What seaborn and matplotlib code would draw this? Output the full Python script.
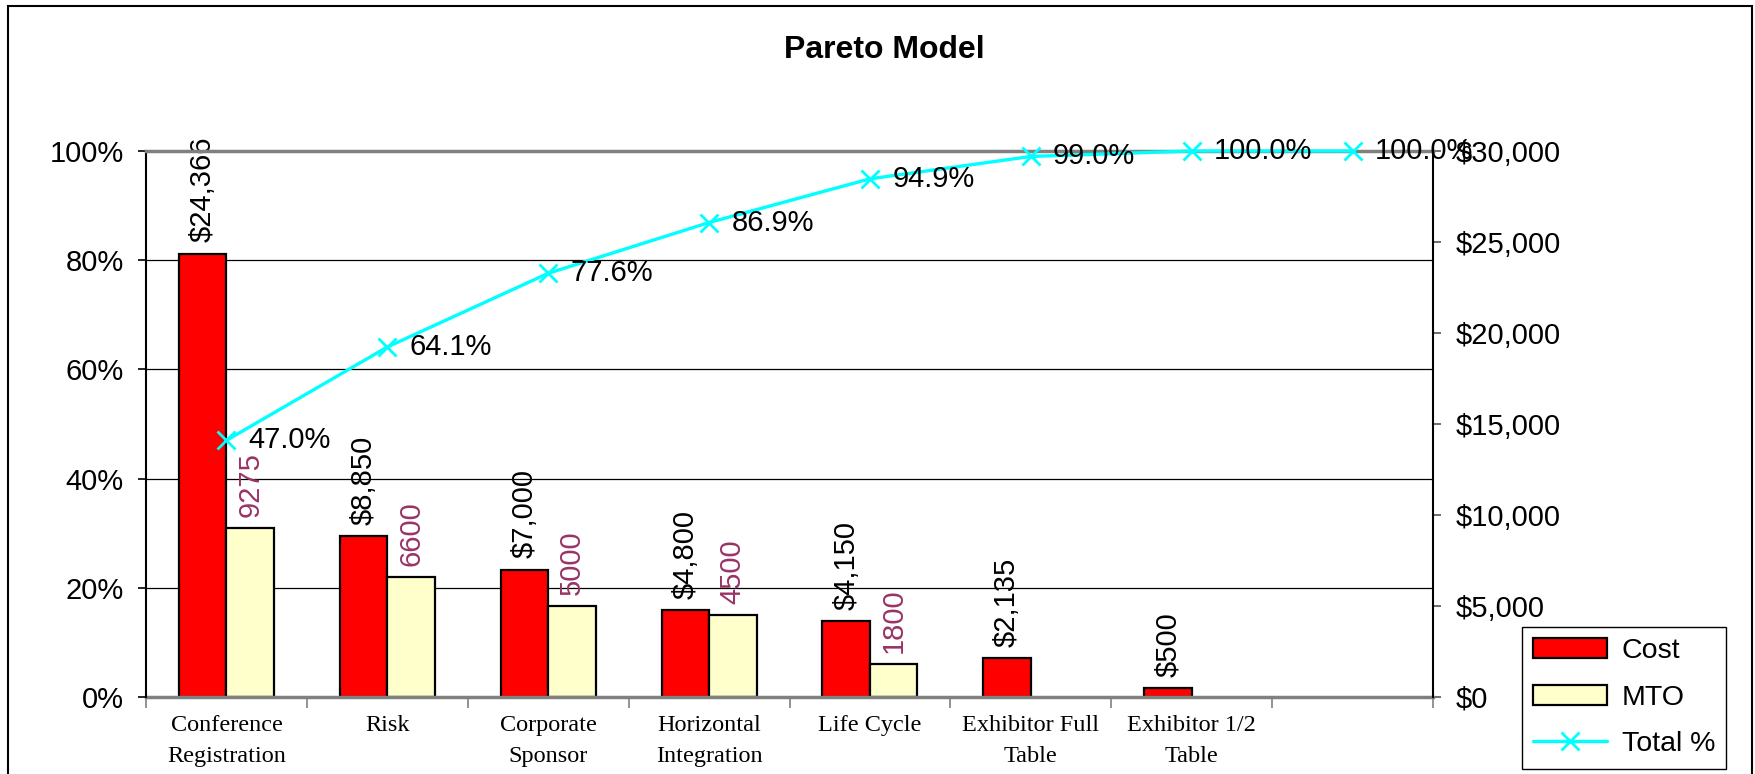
import numpy as np
import pandas as pd
import matplotlib
matplotlib.use("Agg")
import matplotlib.pyplot as plt
import seaborn as sns
from matplotlib.lines import Line2D
from matplotlib.patches import Patch, Rectangle

# ---------------- data ----------------
categories = ["Conference\nRegistration", "Risk", "Corporate\nSponsor",
              "Horizontal\nIntegration", "Life Cycle", "Exhibitor Full\nTable",
              "Exhibitor 1/2\nTable", " "]
cost = [24366, 8850, 7000, 4800, 4150, 2135, 500, np.nan]
mto = [9275, 6600, 5000, 4500, 1800, np.nan, np.nan, np.nan]
total_pct = [47.0, 64.1, 77.6, 86.9, 94.9, 99.0, 100.0, 100.0]
pct_ticks = [0, 20, 40, 60, 80, 100]
dollar_ticks = [0, 5000, 10000, 15000, 20000, 25000, 30000]
series_names = ["Cost", "MTO", "Total %"]
title = "Pareto Model"

# ---------------- style ----------------
sns.set_theme(style="white")
plt.rcParams['font.family'] = ['Liberation Sans', 'DejaVu Sans']
plt.rcParams['text.color'] = 'black'
plt.rcParams['axes.labelcolor'] = 'black'
plt.rcParams['xtick.color'] = 'black'
plt.rcParams['ytick.color'] = 'black'

RED = "#FF0000"
YELLOW = "#FFFFCC"
CYAN = "#00FFFF"
PLUM = "#993366"
FS = 21

fig = plt.figure(figsize=(17.55, 7.74), dpi=100)
W, H = 1755, 774
ax = fig.add_axes([146 / W, 77 / H, (1433 - 146) / W, (697 - 151) / H])

df = pd.DataFrame({
    "category": categories * 2,
    "series": [series_names[0]] * len(categories) + [series_names[1]] * len(categories),
    "value": cost + mto,
}).dropna()

sns.barplot(data=df, x="category", y="value", hue="series", order=categories,
            hue_order=series_names[:2], palette={series_names[0]: RED, series_names[1]: YELLOW},
            width=0.59, gap=0, edgecolor="black", linewidth=1.6, saturation=1,
            errorbar=None, legend=False, ax=ax)

# ---------------- cumulative line axis (left) ----------------
ax2 = ax.twinx()

ax.set_xlim(-0.5, len(categories) - 0.5)
ax.set_ylim(dollar_ticks[0], dollar_ticks[-1])
ax.set_xlabel("")
ax.set_ylabel("")

# gridlines behind bars (at percent positions)
for p in pct_ticks[1:-1]:
    ax.axhline(p / 100 * dollar_ticks[-1], color="black", lw=0.9, zorder=0)

# right axis ($) belongs to the bars
ax.yaxis.tick_right()
ax.set_yticks(dollar_ticks)
ax.set_yticklabels([f"${v:,}" for v in dollar_ticks])
ax.tick_params(axis="y", which="major", right=True, left=False, labelright=True,
               labelleft=False, direction="out", length=6, width=1.2, color="#555555",
               pad=10, labelsize=FS, labelcolor="black")

# x axis
ax.set_xticks(range(len(categories)))
ax.set_xticklabels(categories, fontfamily="Liberation Serif", fontsize=17.5, linespacing=1.6)
ax.tick_params(axis="x", which="major", bottom=True, length=0, pad=13, labelcolor="black")
ax.set_xticks(np.arange(-0.5, len(categories), 1), minor=True)
ax.tick_params(axis="x", which="minor", bottom=True, direction="out", length=8,
               width=1.2, color="#808080")

for s in ["left", "right", "top"]:
    ax.spines[s].set_visible(False)
ax.spines["bottom"].set_color("#808080")
ax.spines["bottom"].set_linewidth(2.5)

# data labels on bars
ax.bar_label(ax.containers[0], fmt=lambda v: f"${v:,.0f}", rotation=90, padding=8,
             fontsize=FS, color="black")
ax.bar_label(ax.containers[1], fmt=lambda v: f"{v:.0f}", rotation=90, padding=8,
             fontsize=FS, color=PLUM)

xpos = np.arange(len(categories))
sns.lineplot(x=xpos, y=total_pct, ax=ax2, color=CYAN, marker="x", markersize=13,
             markeredgewidth=2, markeredgecolor=CYAN, linewidth=2.4, clip_on=False,
             zorder=4)
ax2.set_ylim(pct_ticks[0], pct_ticks[-1])
ax2.set_xlim(-0.5, len(categories) - 0.5)
ax2.yaxis.tick_left()
ax2.set_yticks(pct_ticks)
ax2.set_yticklabels([f"{p}%" for p in pct_ticks])
ax2.tick_params(axis="y", left=True, right=False, labelleft=True, labelright=False,
                direction="out", length=6, width=1.2, color="black", pad=10, labelsize=FS)
ax2.tick_params(axis="x", which="both", bottom=False, labelbottom=False)
ax2.set_ylabel("")

ax2.spines["top"].set_color("#808080")
ax2.spines["top"].set_linewidth(2.5)
ax2.spines["left"].set_color("black")
ax2.spines["left"].set_linewidth(1.5)
ax2.spines["right"].set_color("black")
ax2.spines["right"].set_linewidth(1.5)
ax2.spines["bottom"].set_visible(False)

for i, v in enumerate(total_pct):
    ax2.annotate(f"{v:.1f}%", xy=(xpos[i], v), xytext=(16, 0), textcoords="offset points",
                 ha="left", va="center", fontsize=FS, color="black", zorder=5,
                 annotation_clip=False)

# ---------------- title, legend, frame ----------------
fig.text(884 / W, 1 - 50 / H, title, ha="center", va="center", fontsize=23,
         fontweight="bold", color="black")

handles = [Patch(facecolor=RED, edgecolor="black", linewidth=1.6),
           Patch(facecolor=YELLOW, edgecolor="black", linewidth=1.6),
           Line2D([], [], color=CYAN, marker="x", lw=2.4, ms=13, mew=2)]
leg = fig.legend(handles, series_names, loc="upper left",
                 bbox_to_anchor=(1522 / W, 1 - 627 / H), frameon=True, fancybox=False,
                 edgecolor="black", facecolor="white", framealpha=1, fontsize=20.5,
                 handlelength=2.6, labelspacing=0.72, borderpad=0.4, borderaxespad=0,
                 handletextpad=0.5)
leg.get_frame().set_linewidth(1.0)

fig.patches.append(Rectangle((8 / W, -0.05), (1752 - 8) / W, 1.05 - 6 / H,
                             transform=fig.transFigure, fill=False, edgecolor="black",
                             linewidth=1.5))

fig.savefig("out.png", dpi=100)
